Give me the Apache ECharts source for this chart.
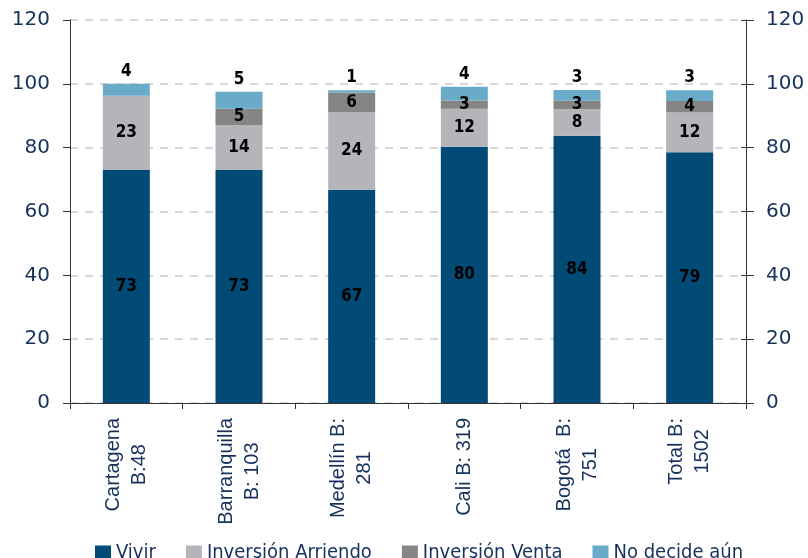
<!DOCTYPE html>
<html>
<head>
<meta charset="utf-8">
<script src="https://cdn.jsdelivr.net/npm/echarts@6/dist/echarts.min.js"></script>
<style>
  html, body { margin: 0; padding: 0; background: #ffffff; }
  #chart { width: 808px; height: 558px; }
</style>
</head>
<body>
<div id="chart"></div>
<script>
// categories (two lines each, as in the picture)
var categories = ['Cartagena\nB:48', 'Barranquilla\nB: 103', 'Medellín B:\n281', 'Cali B: 319', 'Bogotá  B:\n751', 'Total B:\n1502']
var seriesNames = ['Vivir', 'Inversión Arriendo', 'Inversión Venta', 'No decide aún']
var vivir = [73.0, 73.0, 66.8, 80.3, 83.7, 78.6]
var arriendo = [23.3, 14.1, 24.4, 11.9, 8.4, 12.4]
var venta = [0, 5.1, 6.1, 2.6, 2.6, 3.6]
var noDecide = [3.7, 5.3, 0.7, 4.3, 3.4, 3.4]
var yTicks = [0, 20, 40, 60, 80, 100, 120]

var navy = '#15325c'
var colors = ['#034b77', '#b4b5ba', '#858585', '#69abc8']
var condensed = "'DejaVu Sans Condensed', 'Liberation Sans Narrow', 'DejaVu Sans', sans-serif"

var myChart = echarts.init(document.getElementById('chart'))

function roundLabel(p) {
  var v = Math.round(p.value)
  return v > 0 ? String(v) : ''
}

function makeSeries(name, data, idx, top) {
  return {
    name: name,
    type: 'bar',
    stack: 'total',
    barWidth: 47,
    data: data,
    itemStyle: { color: colors[idx] },
    label: {
      show: true,
      position: top ? 'top' : 'inside',
      distance: 4,
      formatter: roundLabel,
      color: '#000000',
      fontWeight: 'bold',
      fontSize: 17,
      fontFamily: condensed
    }
  }
}

var yLabel = {
  color: navy,
  fontSize: 20,
  fontFamily: "'DejaVu Sans', sans-serif",
  margin: 20
}

myChart.setOption({
  animation: false,
  grid: { left: 70, right: 62, top: 20, bottom: 155 },
  legend: {
    data: seriesNames,
    top: 538,
    left: 90,
    icon: 'rect',
    itemWidth: 16,
    itemHeight: 15,
    itemGap: 30,
    textStyle: { color: navy, fontSize: 20, fontFamily: condensed }
  },
  xAxis: {
    type: 'category',
    data: categories,
    axisLine: { lineStyle: { color: '#333333', width: 1 } },
    axisTick: { show: true, length: 6, lineStyle: { color: '#333333' } },
    axisLabel: {
      rotate: 90,
      margin: 15,
      interval: 0,
      formatter: function(v) {
        return v.split('\n').map(function(s) { return '{c|' + s + '}' }).join('\n')
      },
      rich: {
        c: {
          align: 'center',
          color: navy,
          fontSize: 20,
          lineHeight: 26,
          fontFamily: "'Liberation Sans', Arial, sans-serif"
        }
      }
    }
  },
  yAxis: [{
    type: 'value',
    position: 'left',
    min: yTicks[0],
    max: yTicks[yTicks.length - 1],
    interval: 20,
    axisLine: { show: true, lineStyle: { color: '#333333', width: 1 } },
    axisTick: { show: true, length: 7, lineStyle: { color: '#333333' } },
    axisLabel: yLabel,
    splitLine: { show: true, lineStyle: { color: '#cccccc', width: 1.5, type: [8, 7] } }
  }, {
    type: 'value',
    position: 'right',
    min: yTicks[0],
    max: yTicks[yTicks.length - 1],
    interval: 20,
    axisLine: { show: true, lineStyle: { color: '#333333', width: 1 } },
    axisTick: { show: true, length: 8, lineStyle: { color: '#333333' } },
    axisLabel: yLabel,
    splitLine: { show: false }
  }, {
    // inner half of the crossing ticks on the right axis
    type: 'value',
    position: 'right',
    min: yTicks[0],
    max: yTicks[yTicks.length - 1],
    interval: 20,
    axisLine: { show: false },
    axisTick: { show: true, inside: true, length: 5, lineStyle: { color: '#333333' } },
    axisLabel: { show: false },
    splitLine: { show: false }
  }],
  series: [
    makeSeries(seriesNames[0], vivir, 0, false),
    makeSeries(seriesNames[1], arriendo, 1, false),
    makeSeries(seriesNames[2], venta, 2, false),
    makeSeries(seriesNames[3], noDecide, 3, true)
  ]
})
</script>
</body>
</html>
